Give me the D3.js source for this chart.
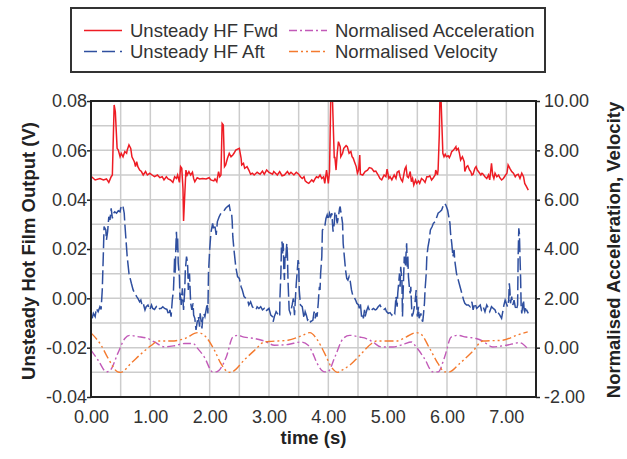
<!DOCTYPE html>
<html lang='en'>
<head>
<meta charset='utf-8'>
<script src='https://d3js.org/d3.v7.min.js'></script>
<style>
	body { margin:0; background:#fff; }
	text { font-family:'Liberation Sans', Arial, sans-serif; fill:#333; }
	.tick-label { font-size:18px; }
	.axis-title { font-size:18.5px; font-weight:bold; fill:#222; }
	.legend-text { font-size:18.5px; }
</style>
</head>
<body>
<div id='chart'></div>
<script>
// hot film signals (time s, volts)
var fwd = [[0.01,0.0493],[0.07,0.0480],[0.15,0.0486],[0.21,0.0480],[0.26,0.0484],[0.30,0.0470],[0.34,0.0493],[0.36,0.0500],[0.39,0.0784],[0.41,0.0757],[0.44,0.0608],[0.46,0.0601],[0.49,0.0574],[0.51,0.0588],[0.54,0.0574],[0.57,0.0595],[0.60,0.0588],[0.61,0.0601],[0.64,0.0622],[0.67,0.0608],[0.69,0.0574],[0.73,0.0554],[0.75,0.0534],[0.77,0.0554],[0.79,0.0534],[0.82,0.0520],[0.85,0.0514],[0.88,0.0500],[0.92,0.0514],[0.95,0.0500],[0.99,0.0507],[1.03,0.0500],[1.07,0.0493],[1.12,0.0500],[1.16,0.0489],[1.20,0.0493],[1.23,0.0480],[1.27,0.0493],[1.30,0.0484],[1.34,0.0480],[1.38,0.0470],[1.41,0.0493],[1.44,0.0486],[1.46,0.0500],[1.49,0.0470],[1.51,0.0534],[1.53,0.0527],[1.55,0.0446],[1.56,0.0314],[1.58,0.0419],[1.60,0.0520],[1.62,0.0500],[1.65,0.0514],[1.68,0.0500],[1.71,0.0511],[1.73,0.0486],[1.75,0.0473],[1.79,0.0489],[1.83,0.0484],[1.88,0.0486],[1.94,0.0484],[1.99,0.0489],[2.02,0.0480],[2.07,0.0476],[2.09,0.0484],[2.12,0.0473],[2.15,0.0514],[2.17,0.0493],[2.19,0.0500],[2.21,0.0709],[2.23,0.0703],[2.25,0.0534],[2.27,0.0541],[2.30,0.0568],[2.33,0.0588],[2.36,0.0574],[2.39,0.0581],[2.41,0.0588],[2.44,0.0601],[2.47,0.0605],[2.50,0.0608],[2.53,0.0568],[2.54,0.0541],[2.57,0.0547],[2.59,0.0527],[2.63,0.0534],[2.66,0.0520],[2.69,0.0503],[2.72,0.0507],[2.75,0.0500],[2.80,0.0511],[2.85,0.0503],[2.89,0.0516],[2.92,0.0503],[2.96,0.0520],[3.00,0.0511],[3.06,0.0503],[3.08,0.0514],[3.14,0.0500],[3.18,0.0514],[3.22,0.0497],[3.26,0.0500],[3.31,0.0514],[3.34,0.0503],[3.37,0.0511],[3.42,0.0500],[3.46,0.0511],[3.50,0.0503],[3.53,0.0493],[3.56,0.0486],[3.59,0.0493],[3.61,0.0476],[3.64,0.0470],[3.67,0.0466],[3.72,0.0480],[3.75,0.0473],[3.78,0.0486],[3.80,0.0493],[3.83,0.0489],[3.86,0.0500],[3.89,0.0486],[3.92,0.0493],[3.94,0.0466],[3.97,0.0520],[4.00,0.0466],[4.02,0.0514],[4.04,0.0804],[4.07,0.0804],[4.10,0.0568],[4.11,0.0574],[4.13,0.0520],[4.15,0.0588],[4.17,0.0635],[4.20,0.0615],[4.21,0.0574],[4.24,0.0588],[4.26,0.0608],[4.30,0.0619],[4.32,0.0615],[4.35,0.0588],[4.38,0.0595],[4.40,0.0574],[4.42,0.0568],[4.44,0.0554],[4.47,0.0534],[4.49,0.0507],[4.51,0.0520],[4.53,0.0581],[4.54,0.0503],[4.58,0.0500],[4.62,0.0514],[4.66,0.0520],[4.69,0.0530],[4.73,0.0527],[4.77,0.0514],[4.80,0.0516],[4.84,0.0500],[4.87,0.0486],[4.90,0.0480],[4.94,0.0500],[4.97,0.0493],[4.99,0.0524],[5.02,0.0486],[5.04,0.0493],[5.07,0.0480],[5.11,0.0500],[5.14,0.0486],[5.16,0.0511],[5.19,0.0516],[5.21,0.0493],[5.23,0.0480],[5.25,0.0473],[5.29,0.0524],[5.31,0.0534],[5.33,0.0493],[5.35,0.0489],[5.38,0.0514],[5.40,0.0473],[5.42,0.0486],[5.44,0.0459],[5.47,0.0480],[5.49,0.0466],[5.52,0.0476],[5.54,0.0466],[5.57,0.0486],[5.60,0.0480],[5.63,0.0470],[5.66,0.0493],[5.69,0.0493],[5.71,0.0497],[5.74,0.0480],[5.77,0.0489],[5.80,0.0500],[5.81,0.0520],[5.84,0.0500],[5.85,0.0520],[5.87,0.0662],[5.88,0.0804],[5.90,0.0804],[5.92,0.0662],[5.93,0.0588],[5.95,0.0574],[5.97,0.0584],[5.99,0.0574],[6.02,0.0578],[6.04,0.0570],[6.06,0.0581],[6.08,0.0595],[6.11,0.0601],[6.13,0.0608],[6.15,0.0615],[6.16,0.0601],[6.19,0.0608],[6.21,0.0588],[6.23,0.0561],[6.26,0.0574],[6.29,0.0554],[6.30,0.0514],[6.33,0.0534],[6.35,0.0538],[6.38,0.0520],[6.40,0.0514],[6.42,0.0500],[6.44,0.0503],[6.47,0.0527],[6.49,0.0534],[6.51,0.0520],[6.53,0.0514],[6.57,0.0500],[6.59,0.0507],[6.61,0.0503],[6.64,0.0493],[6.67,0.0486],[6.70,0.0500],[6.72,0.0480],[6.75,0.0547],[6.77,0.0500],[6.79,0.0486],[6.81,0.0507],[6.84,0.0493],[6.87,0.0500],[6.89,0.0489],[6.92,0.0480],[6.95,0.0486],[6.98,0.0497],[7.01,0.0507],[7.03,0.0541],[7.06,0.0527],[7.09,0.0514],[7.12,0.0507],[7.15,0.0493],[7.17,0.0500],[7.20,0.0503],[7.23,0.0486],[7.26,0.0507],[7.29,0.0493],[7.31,0.0466],[7.34,0.0453],[7.37,0.0439]];

var aft = [[0.02,-0.0081],[0.04,-0.0061],[0.07,-0.0074],[0.09,-0.0041],[0.12,-0.0054],[0.15,-0.0034],[0.17,-0.0045],[0.19,0.0034],[0.21,0.0196],[0.22,0.0291],[0.25,0.0277],[0.26,0.0236],[0.28,0.0270],[0.30,0.0331],[0.32,0.0318],[0.34,0.0365],[0.36,0.0324],[0.38,0.0345],[0.40,0.0351],[0.43,0.0345],[0.46,0.0355],[0.49,0.0351],[0.50,0.0365],[0.53,0.0378],[0.54,0.0372],[0.56,0.0345],[0.57,0.0304],[0.59,0.0236],[0.61,0.0169],[0.64,0.0101],[0.66,0.0081],[0.68,0.0061],[0.71,0.0034],[0.74,0.0020],[0.77,0.0007],[0.79,0.0000],[0.82,-0.0014],[0.84,-0.0007],[0.86,-0.0027],[0.88,-0.0020],[0.91,-0.0047],[0.93,-0.0034],[0.96,-0.0027],[0.99,-0.0047],[1.02,-0.0027],[1.04,-0.0041],[1.07,-0.0045],[1.10,-0.0034],[1.13,-0.0047],[1.16,-0.0041],[1.18,-0.0041],[1.21,-0.0034],[1.24,-0.0041],[1.28,-0.0045],[1.31,-0.0068],[1.33,-0.0047],[1.35,-0.0074],[1.37,-0.0007],[1.39,0.0034],[1.40,0.0101],[1.41,0.0169],[1.42,0.0101],[1.43,0.0209],[1.44,0.0270],[1.45,0.0196],[1.46,0.0250],[1.47,0.0142],[1.49,0.0088],[1.50,-0.0007],[1.51,0.0020],[1.52,-0.0027],[1.54,0.0041],[1.55,-0.0007],[1.56,-0.0047],[1.58,0.0034],[1.59,0.0115],[1.60,0.0142],[1.61,0.0169],[1.62,0.0155],[1.63,0.0128],[1.64,0.0034],[1.66,0.0101],[1.68,-0.0020],[1.70,-0.0047],[1.72,-0.0020],[1.73,-0.0068],[1.75,-0.0081],[1.77,-0.0128],[1.79,-0.0095],[1.81,-0.0074],[1.83,-0.0115],[1.84,-0.0061],[1.87,-0.0122],[1.88,-0.0088],[1.90,-0.0061],[1.92,-0.0074],[1.94,-0.0047],[1.96,-0.0020],[1.97,-0.0061],[1.98,0.0101],[2.00,0.0196],[2.02,0.0264],[2.05,0.0304],[2.07,0.0277],[2.09,0.0291],[2.11,0.0257],[2.13,0.0311],[2.16,0.0331],[2.19,0.0345],[2.22,0.0351],[2.25,0.0358],[2.27,0.0365],[2.30,0.0372],[2.33,0.0378],[2.35,0.0351],[2.37,0.0345],[2.38,0.0311],[2.39,0.0250],[2.41,0.0196],[2.44,0.0128],[2.47,0.0088],[2.50,0.0081],[2.53,0.0047],[2.55,0.0034],[2.58,0.0007],[2.61,0.0000],[2.64,-0.0007],[2.66,-0.0027],[2.69,-0.0014],[2.72,-0.0034],[2.75,-0.0041],[2.78,-0.0047],[2.80,-0.0034],[2.83,-0.0041],[2.86,-0.0034],[2.89,-0.0047],[2.92,-0.0041],[2.94,-0.0054],[2.97,-0.0047],[3.00,-0.0041],[3.03,-0.0068],[3.06,-0.0074],[3.07,-0.0095],[3.09,-0.0074],[3.12,-0.0054],[3.14,-0.0061],[3.16,-0.0068],[3.18,-0.0074],[3.185,0.0007],[3.20,0.0101],[3.21,0.0209],[3.22,0.0230],[3.23,0.0182],[3.24,0.0223],[3.25,0.0115],[3.26,0.0074],[3.27,0.0169],[3.28,0.0155],[3.30,0.0223],[3.31,0.0182],[3.32,0.0074],[3.34,-0.0047],[3.36,-0.0061],[3.39,-0.0027],[3.41,0.0000],[3.43,-0.0068],[3.45,0.0020],[3.46,0.0061],[3.49,0.0155],[3.50,0.0142],[3.51,0.0034],[3.53,-0.0027],[3.56,-0.0034],[3.59,-0.0081],[3.61,-0.0054],[3.63,-0.0068],[3.65,-0.0088],[3.68,-0.0081],[3.70,-0.0095],[3.74,-0.0088],[3.76,-0.0054],[3.78,-0.0081],[3.79,-0.0061],[3.81,-0.0074],[3.83,-0.0020],[3.84,0.0020],[3.85,0.0047],[3.86,0.0034],[3.87,0.0101],[3.89,0.0169],[3.90,0.0277],[3.93,0.0284],[3.94,0.0291],[3.96,0.0324],[3.98,0.0338],[4.00,0.0318],[4.02,0.0345],[4.04,0.0331],[4.06,0.0345],[4.07,0.0304],[4.08,0.0270],[4.10,0.0304],[4.11,0.0345],[4.13,0.0351],[4.14,0.0318],[4.15,0.0304],[4.17,0.0331],[4.19,0.0365],[4.20,0.0372],[4.21,0.0351],[4.22,0.0338],[4.24,0.0304],[4.25,0.0223],[4.27,0.0169],[4.29,0.0115],[4.31,0.0081],[4.33,0.0074],[4.35,0.0088],[4.37,0.0068],[4.39,0.0034],[4.41,0.0014],[4.43,0.0007],[4.46,-0.0007],[4.48,-0.0020],[4.51,-0.0027],[4.52,-0.0041],[4.54,-0.0020],[4.56,-0.0074],[4.58,-0.0061],[4.59,-0.0081],[4.61,-0.0047],[4.62,-0.0074],[4.65,-0.0047],[4.67,-0.0034],[4.70,-0.0054],[4.73,-0.0047],[4.76,-0.0041],[4.79,-0.0047],[4.81,-0.0045],[4.84,-0.0034],[4.87,-0.0027],[4.90,-0.0041],[4.93,-0.0047],[4.96,-0.0041],[4.98,-0.0054],[5.01,-0.0061],[5.04,-0.0058],[5.07,-0.0068],[5.10,-0.0054],[5.12,-0.0061],[5.14,0.0007],[5.16,-0.0034],[5.17,0.0020],[5.20,0.0101],[5.21,0.0047],[5.22,0.0128],[5.24,0.0074],[5.25,-0.0074],[5.26,0.0020],[5.28,0.0169],[5.30,0.0128],[5.31,0.0182],[5.32,0.0223],[5.33,0.0128],[5.34,0.0169],[5.35,0.0088],[5.37,0.0034],[5.38,0.0020],[5.39,0.0047],[5.41,-0.0074],[5.43,-0.0061],[5.46,-0.0020],[5.48,0.0034],[5.49,-0.0020],[5.50,-0.0074],[5.52,-0.0034],[5.53,-0.0081],[5.56,-0.0061],[5.57,-0.0081],[5.59,-0.0095],[5.60,-0.0074],[5.62,-0.0020],[5.63,0.0034],[5.65,0.0101],[5.66,0.0169],[5.68,0.0209],[5.70,0.0236],[5.72,0.0277],[5.75,0.0291],[5.77,0.0304],[5.80,0.0311],[5.83,0.0331],[5.85,0.0345],[5.88,0.0351],[5.91,0.0358],[5.94,0.0378],[5.96,0.0385],[5.98,0.0378],[6.01,0.0358],[6.03,0.0331],[6.05,0.0304],[6.06,0.0264],[6.08,0.0223],[6.10,0.0169],[6.12,0.0196],[6.13,0.0155],[6.16,0.0101],[6.19,0.0074],[6.22,0.0047],[6.25,0.0020],[6.28,-0.0007],[6.30,-0.0020],[6.33,-0.0027],[6.36,-0.0027],[6.39,-0.0034],[6.42,-0.0014],[6.44,-0.0047],[6.47,-0.0020],[6.50,-0.0041],[6.53,-0.0034],[6.56,-0.0027],[6.58,-0.0047],[6.61,-0.0034],[6.64,-0.0054],[6.67,-0.0027],[6.70,-0.0041],[6.72,-0.0054],[6.75,-0.0034],[6.78,-0.0041],[6.81,-0.0047],[6.84,-0.0068],[6.87,-0.0061],[6.89,-0.0068],[6.92,-0.0081],[6.94,-0.0054],[6.96,-0.0027],[6.98,-0.0007],[6.99,-0.0014],[7.02,-0.0034],[7.04,-0.0007],[7.05,0.0061],[7.06,0.0034],[7.07,-0.0020],[7.09,0.0007],[7.11,-0.0027],[7.13,-0.0007],[7.15,-0.0034],[7.17,-0.0047],[7.19,-0.0027],[7.20,0.0182],[7.21,0.0284],[7.22,0.0264],[7.23,0.0169],[7.24,0.0088],[7.25,-0.0034],[7.26,-0.0061],[7.28,-0.0020],[7.29,-0.0007],[7.30,-0.0047],[7.31,-0.0054],[7.33,-0.0034],[7.34,-0.0047],[7.37,-0.0061]];

// normalised signals (time s, right axis units)
var accel = [[0.00,-0.10],[0.12,-0.51],[0.26,-0.98],[0.33,-0.90],[0.45,-0.24],[0.57,0.37],[0.65,0.50],[0.79,0.45],[0.96,0.37],[1.07,0.23],[1.24,0.03],[1.41,0.08],[1.58,0.17],[1.72,0.17],[1.80,-0.04],[1.91,-0.38],[2.05,-0.98],[2.11,-0.98],[2.28,-0.38],[2.39,0.43],[2.47,0.50],[2.58,0.43],[2.76,0.37],[2.92,0.27],[3.09,0.10],[3.32,0.13],[3.54,0.23],[3.66,0.10],[3.74,-0.24],[3.80,-0.58],[3.94,-0.98],[3.99,-0.98],[4.11,-0.38],[4.25,0.37],[4.36,0.50],[4.53,0.43],[4.64,0.37],[4.75,0.23],[4.89,0.03],[5.09,0.03],[5.26,0.13],[5.40,0.23],[5.48,0.03],[5.62,-0.44],[5.76,-0.98],[5.85,-0.98],[5.96,-0.38],[6.07,0.43],[6.18,0.50],[6.32,0.43],[6.49,0.37],[6.60,0.27],[6.77,0.03],[7.00,0.10],[7.22,0.20],[7.36,-0.04]];

var veloc = [[0.00,0.60],[0.17,0.10],[0.29,-0.44],[0.45,-0.98],[0.50,-1.00],[0.68,-0.62],[0.85,-0.24],[1.02,0.10],[1.13,0.27],[1.35,0.27],[1.58,0.37],[1.80,0.61],[1.91,0.50],[2.08,-0.10],[2.19,-0.65],[2.33,-1.00],[2.38,-0.98],[2.59,-0.48],[2.76,-0.10],[2.92,0.23],[3.00,0.25],[3.32,0.30],[3.54,0.47],[3.69,0.61],[3.80,0.37],[3.94,-0.24],[4.05,-0.78],[4.16,-1.00],[4.20,-0.95],[4.36,-0.71],[4.53,-0.31],[4.73,0.17],[4.81,0.27],[5.15,0.27],[5.31,0.43],[5.48,0.61],[5.56,0.55],[5.71,-0.04],[5.85,-0.65],[5.96,-0.98],[6.04,-0.98],[6.21,-0.65],[6.44,-0.13],[6.60,0.27],[6.94,0.30],[7.17,0.50],[7.36,0.64]];

var xTicks = [0,1,2,3,4,5,6,7];
var yLeftTicks = [-0.04,-0.02,0,0.02,0.04,0.06,0.08];
var yRightTicks = [-2,0,2,4,6,8,10];

var seriesNames = ['Unsteady HF Fwd','Unsteady HF Aft','Normalised Acceleration','Normalised Velocity'];

var width = 627, height = 459;
var margin = {left:91, right:91, top:101, bottom:62};

var fmt = function(d){ return d.toFixed(2); };

var svg = d3.select('#chart').append('svg')
	.attr('width', width).attr('height', height);

var x = d3.scaleLinear().domain([0, 7.5]).range([margin.left, width - margin.right]);
var yL = d3.scaleLinear().domain([-0.04, 0.08]).range([height - margin.bottom, margin.top]);
var yR = d3.scaleLinear().domain([-2, 10]).range([height - margin.bottom, margin.top]);

//grid
svg.append('g').selectAll('line')
	.data(d3.range(-0.04, 0.0801, 0.01))
	.enter().append('line')
	.attr('x1', x(0)).attr('x2', x(7.5))
	.attr('y1', function(d){ return yL(d); }).attr('y2', function(d){ return yL(d); })
	.style('stroke', '#cccccc').style('stroke-width', 1.5);
svg.append('g').selectAll('line')
	.data(d3.range(0.5, 7.5, 0.5))
	.enter().append('line')
	.attr('y1', yL(-0.04)).attr('y2', yL(0.08))
	.attr('x1', function(d){ return x(d); }).attr('x2', function(d){ return x(d); })
	.style('stroke', '#cccccc').style('stroke-width', 1.5);

svg.append('clipPath').attr('id', 'clip')
	.append('rect')
	.attr('x', x(0)).attr('y', yL(0.08))
	.attr('width', x(7.5) - x(0)).attr('height', yL(-0.04) - yL(0.08));

var lineL = d3.line().x(function(d){ return x(d[0]); }).y(function(d){ return yL(d[1]); });
var lineR = d3.line().x(function(d){ return x(d[0]); }).y(function(d){ return yR(d[1]); })
	.curve(d3.curveMonotoneX);

var plot = svg.append('g').attr('clip-path', 'url(#clip)');

plot.append('path').datum(accel).attr('d', lineR)
	.style('fill', 'none').style('stroke', '#c25ab8').style('stroke-width', 1.4)
	.style('stroke-dasharray', '8,3,2,3');
plot.append('path').datum(veloc).attr('d', lineR)
	.style('fill', 'none').style('stroke', '#f47a2e').style('stroke-width', 1.4)
	.style('stroke-dasharray', '9,3,2,3,2,3');
plot.append('path').datum(aft).attr('d', lineL)
	.style('fill', 'none').style('stroke', '#2f4f9f').style('stroke-width', 1.5)
	.style('stroke-dasharray', '14,4');
plot.append('path').datum(fwd).attr('d', lineL)
	.style('fill', 'none').style('stroke', '#ee1c24').style('stroke-width', 1.5);

//frame
svg.append('rect')
	.attr('x', x(0)).attr('y', yL(0.08))
	.attr('width', x(7.5) - x(0)).attr('height', yL(-0.04) - yL(0.08))
	.style('fill', 'none').style('stroke', '#222').style('stroke-width', 2);

//axes
var axL = svg.append('g').attr('transform', 'translate(' + x(0) + ',0)')
	.call(d3.axisLeft(yL).tickValues(yLeftTicks).tickSize(4).tickFormat(fmt));
var axR = svg.append('g').attr('transform', 'translate(' + x(7.5) + ',0)')
	.call(d3.axisRight(yR).tickValues(yRightTicks).tickSize(4).tickFormat(fmt));
var axB = svg.append('g').attr('transform', 'translate(0,' + yL(-0.04) + ')')
	.call(d3.axisBottom(x).tickValues(xTicks).tickSize(0).tickFormat(fmt));

[axL, axR, axB].forEach(function(a){
	a.select('.domain').remove();
	a.selectAll('line').style('stroke', '#222').style('stroke-width', 1.5);
	a.selectAll('text').attr('class', 'tick-label');
	a.attr('font-family', null).attr('font-size', null);
});
axL.selectAll('text').attr('x', -4);
axR.selectAll('text').attr('x', 8);
axB.selectAll('text').attr('y', 0).attr('dy', 26);

svg.append('text').attr('class', 'axis-title')
	.attr('transform', 'translate(34.5,' + (yL(0.02) + 2) + ') rotate(-90)')
	.attr('text-anchor', 'middle').text('Unsteady Hot Film Output (V)');
svg.append('text').attr('class', 'axis-title')
	.attr('transform', 'translate(619.5,' + (yL(0.02) + 1) + ') rotate(-90)')
	.attr('text-anchor', 'middle').text('Normalised Acceleration, Velocity');
svg.append('text').attr('class', 'axis-title')
	.attr('x', (x(0) + x(7.5)) / 2).attr('y', 444)
	.attr('text-anchor', 'middle').text('time (s)');

//legend
var legend = svg.append('g').attr('class', 'legend');
legend.append('rect')
	.attr('x', 71).attr('y', 8).attr('width', 474).attr('height', 64)
	.style('fill', '#fff').style('stroke', '#333').style('stroke-width', 2);
var legendItems = [
	{name: seriesNames[0], color: '#ee1c24', dash: null, col: 0, row: 0},
	{name: seriesNames[1], color: '#2f4f9f', dash: '13,5', col: 0, row: 1},
	{name: seriesNames[2], color: '#c25ab8', dash: '8,3,2,3', col: 1, row: 0},
	{name: seriesNames[3], color: '#f47a2e', dash: '9,3,2,3,2,3', col: 1, row: 1}
];
var colX = [84, 289];
legend.selectAll('.legend-line')
	.data(legendItems).enter().append('line')
	.attr('x1', function(d){ return colX[d.col]; })
	.attr('x2', function(d){ return colX[d.col] + 38; })
	.attr('y1', function(d){ return 30.5 + d.row * 21; })
	.attr('y2', function(d){ return 30.5 + d.row * 21; })
	.style('stroke', function(d){ return d.color; })
	.style('stroke-width', 1.5)
	.style('stroke-dasharray', function(d){ return d.dash; });
legend.selectAll('.legend-text')
	.data(legendItems).enter().append('text')
	.attr('class', 'legend-text')
	.attr('x', function(d){ return colX[d.col] + 46; })
	.attr('y', function(d){ return 37 + d.row * 21; })
	.text(function(d){ return d.name; });
</script>
</body>
</html>
